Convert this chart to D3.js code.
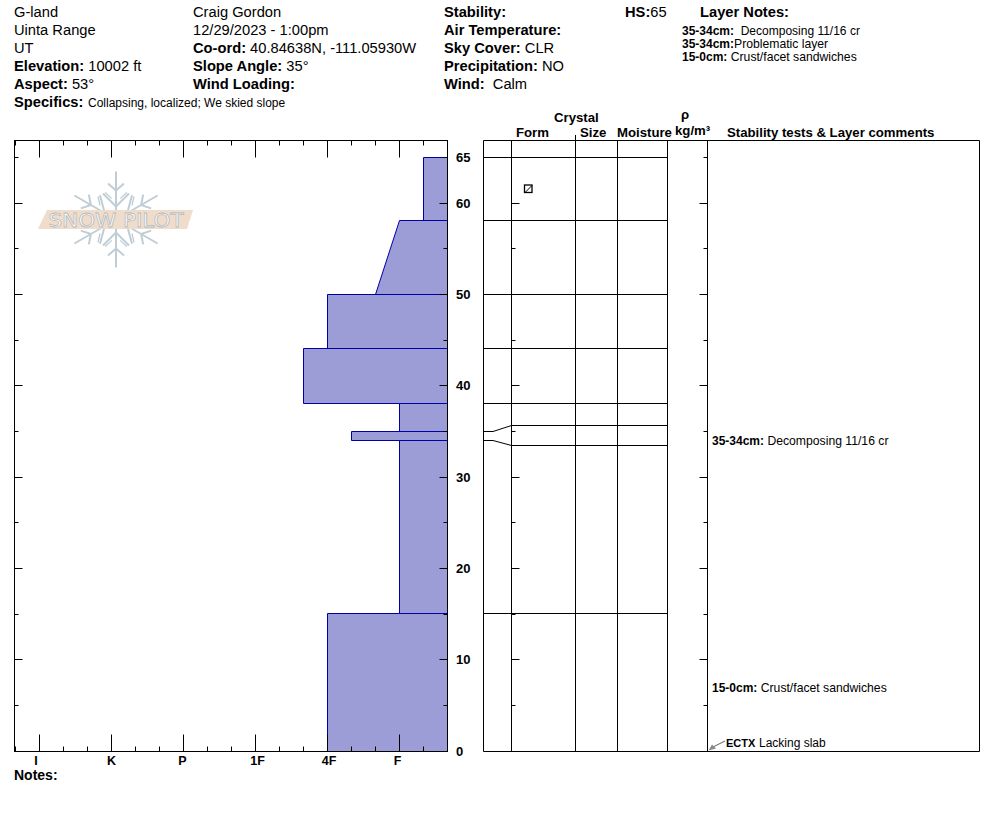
<!DOCTYPE html>
<html>
<head>
<meta charset="utf-8">
<script src="https://cdn.jsdelivr.net/npm/d3@7/dist/d3.min.js"></script>
<style>
body{margin:0;background:#fff;}
text{font-family:"Liberation Sans",Arial,sans-serif;fill:#000;}
</style>
</head>
<body>
<svg id="chart" width="994" height="840"></svg>
<script>
// hand density: F=1, 4F=2, 1F=3, P=4, K=5, I=6
let handLabels=["I","K","P","1F","4F","F"];
let handValues=[6,5,4,3,2,1];
let handLabelShift=[-3.5,0,-1,2,1.5,-2];

// profile layers, depth in cm, hardness top and bottom of layer
let layerTop=[65,58.15,50,44.1,38.12,35.05,34.05,15.12];
let layerBottom=[58.15,50,44.1,38.12,35.05,34.05,15.12,0];
let hardTop=[0.667,1,2,2.333,1,1.667,1,2];
let hardBottom=[0.667,1.333,2,2.333,1,1.667,1,2];

// table grid lines, these are spread apart so the thin layer has room
let gridDepth=[65,58.15,50,44.1,38.12,35.7,33.52,15.12];
let depthTicks=[5,10,15,20,25,30,35,40,45,50,55,60,65];
let depthLabels=[0,10,20,30,40,50,60,65];

let columns=[483.5,511.5,575.5,617.5,667.5,707.5,979.5];
let colHeads=[["Crystal",554,122],["Form",516,137],["Size",580,137],["Moisture",617,137],["ρ",681,119],["kg/m³",675,135],["Stability tests & Layer comments",727,137]];

let headerRows=[
 [14,17,"","G-land"],[14,35,"","Uinta Range"],[14,53,"","UT"],[14,71,"Elevation:"," 10002 ft"],[14,89,"Aspect:"," 53°"],
 [193,17,"","Craig Gordon"],[193,35,"","12/29/2023 - 1:00pm"],[193,53,"Co-ord:"," 40.84638N, -111.05930W"],[193,71,"Slope Angle:"," 35°"],[193,89,"Wind Loading:",""],
 [444,17,"Stability:",""],[444,35,"Air Temperature:",""],[444,53,"Sky Cover:"," CLR"],[444,71,"Precipitation:"," NO"],[444,89,"Wind:","  Calm"],
 [625,17,"HS:","65"],[700,17,"Layer Notes:",""],[14,107,"Specifics:",""]
];
let smallRows=[
 [88,107,"","Collapsing, localized; We skied slope"],
 [682,34.5,"35-34cm:","  Decomposing 11/16 cr"],[682,48,"35-34cm:","Problematic layer"],[682,61,"15-0cm:"," Crust/facet sandwiches"],
 [712,445,"35-34cm:"," Decomposing 11/16 cr"],[712,692,"15-0cm:"," Crust/facet sandwiches"]
];

let svg=d3.select("#chart");
let y=d3.scaleLinear().domain([0,65]).range([751.3,157.5]);
let x=d3.scaleLinear().domain([1,2]).range([399.5,327.5]);
let crisp=v=>Math.floor(v)+0.5;
let plotL=14.5,plotR=447.5,plotT=140.5,plotB=751.5;

// logo first, it sits under everything
let logo=svg.append("g").attr("transform","translate(116,219.5)");
for(let a=0;a<6;a++){
  let arm=logo.append("g").attr("transform","rotate("+(a*60)+")").attr("stroke","#bfced6").attr("stroke-width",2).attr("fill","none");
  arm.append("path").attr("d","M0,-8V-48M0,-13L-13,-26M0,-13L13,-26M0,-29L-8,-36M0,-29L8,-36");
  arm.append("path").attr("d","M-16,-14L-18,-23M16,-14L18,-23").attr("stroke-width",1.3);
}
logo.append("path").attr("d","M-69,-9.5H77L71,9.5H-78Z").attr("fill","#f0dcca");
logo.append("text").text("SNOW PILOT").attr("text-anchor","middle").attr("y",7.5)
  .style("font-family","DejaVu Sans").style("font-size","20px").attr("textLength",135).attr("lengthAdjust","spacingAndGlyphs")
  .style("fill","#fff").style("stroke","#b6babc").style("stroke-width",0.8);

// profile
let line=d3.line();
layerTop.forEach((t,i)=>{
  let pts=[[plotR,crisp(y(t))],[crisp(x(hardTop[i])),crisp(y(t))],[crisp(x(hardBottom[i])),crisp(y(layerBottom[i]))],[plotR,crisp(y(layerBottom[i]))]];
  svg.append("path").attr("d",line(pts)).attr("fill","#9c9cd7").attr("stroke","#0000a8").attr("stroke-width",1);
});

// hardness axis ticks, top and bottom, majors on the labels and two minors between
let majors=handValues.map(d=>x(d));
let minors=d3.range(plotL+1,plotR+1,24).filter(d=>!majors.includes(d));
let ticks=svg.append("g").attr("stroke","#000").attr("stroke-width",1);
majors.forEach(m=>{
  ticks.append("line").attr("x1",m).attr("x2",m).attr("y1",plotT).attr("y2",plotT+17);
  ticks.append("line").attr("x1",m).attr("x2",m).attr("y1",plotB).attr("y2",plotB-17);
});
minors.forEach(m=>{
  ticks.append("line").attr("x1",m).attr("x2",m).attr("y1",plotT).attr("y2",plotT+5);
  ticks.append("line").attr("x1",m).attr("x2",m).attr("y1",plotB).attr("y2",plotB-5);
});
// depth ticks on both plots
depthTicks.forEach(d=>{
  let len=d%10==0?8:4;
  let p=crisp(y(d));
  [[plotL,1],[plotR,-1],[columns[1],1],[columns[5],-1]].forEach(a=>{
    ticks.append("line").attr("x1",a[0]).attr("x2",a[0]+a[1]*len).attr("y1",p).attr("y2",p);
  });
});
svg.append("rect").attr("x",plotL).attr("y",plotT).attr("width",plotR-plotL).attr("height",plotB-plotT).attr("fill","none").attr("stroke","#000");

// table on the right
let grid=svg.append("g").attr("stroke","#000").attr("stroke-width",1);
columns.forEach(c=>{
  grid.append("line").attr("x1",c).attr("x2",c).attr("y1",plotT).attr("y2",plotB);
});
grid.append("line").attr("x1",columns[2]).attr("x2",columns[2]).attr("y1",135).attr("y2",plotT);
grid.append("line").attr("x1",columns[0]).attr("x2",columns[6]).attr("y1",plotT).attr("y2",plotT);
grid.append("line").attr("x1",columns[0]).attr("x2",columns[6]).attr("y1",plotB).attr("y2",plotB);
gridDepth.forEach((d,i)=>{
  let thin=d!=layerTop[i];
  grid.append("line").attr("x1",thin?columns[1]:columns[0]).attr("x2",columns[4]).attr("y1",crisp(y(d))).attr("y2",crisp(y(d)));
  if(thin){
    grid.append("path").attr("fill","none").attr("d",line([[columns[0],crisp(y(layerTop[i]))],[493,crisp(y(layerTop[i]))],[columns[1],crisp(y(d))]]));
  }
});

// grain form symbol of the top layer
let formY=crisp(y((layerTop[0]+layerBottom[0])/2));
grid.append("rect").attr("x",524.5).attr("y",formY-3.5).attr("width",7.5).attr("height",7.5).attr("fill","#fff").attr("stroke-width",1.3);
grid.append("line").attr("x1",525).attr("x2",532).attr("y1",formY+4).attr("y2",formY-3);

// labels
depthLabels.forEach(d=>{
  svg.append("text").text(d).attr("x",456).attr("y",y(d)+4.5).style("font-size","13px").style("font-weight","bold");
});
handLabels.forEach((l,i)=>{
  svg.append("text").text(l).attr("x",x(handValues[i])+handLabelShift[i]).attr("y",764.5).attr("text-anchor","middle").style("font-size","12.5px").style("font-weight","bold");
});
colHeads.forEach(h=>{
  svg.append("text").text(h[0]).attr("x",h[1]).attr("y",h[2]).style("font-size","13.2px").style("font-weight","bold");
});

function addRow(r,size,boldSize){
  let t=svg.append("text").attr("x",r[0]).attr("y",r[1]).attr("xml:space","preserve");
  t.append("tspan").text(r[2]).style("font-weight","bold").style("font-size",boldSize+"px");
  t.append("tspan").text(r[3]).style("font-size",size+"px");
}
headerRows.forEach(r=>addRow(r,14.7,14.7));
smallRows.forEach((r,i)=>addRow(r,i<2?12:12.2,12));
addRow([14,780,"Notes:",""],14,14);
addRow([726,747,"ECTX",""],12,11);
addRow([759,747,"","Lacking slab"],12,12);

// arrow from ECTX to the bottom of the column
svg.append("line").attr("x1",725).attr("y1",741).attr("x2",714).attr("y2",746.5).attr("stroke","#333").attr("stroke-width",0.8);
svg.append("path").attr("d","M708.5,750.5L712,744.5L716,748.5Z").attr("fill","#888");
</script>
</body>
</html>
